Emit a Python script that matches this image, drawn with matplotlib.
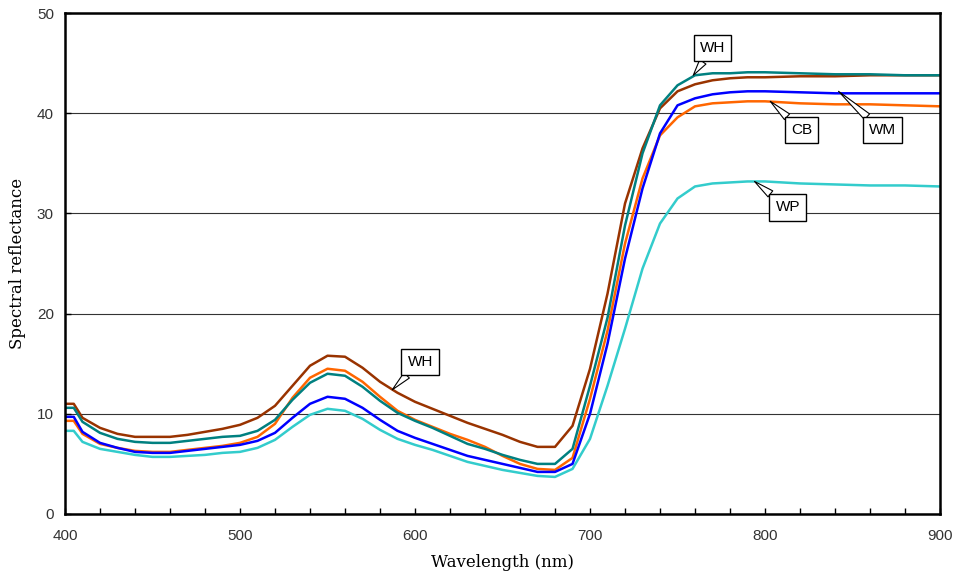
import matplotlib
matplotlib.use('Agg')
import matplotlib.pyplot as plt
from matplotlib.ticker import MultipleLocator

# wavelength (nm)
wl = [400, 405, 410, 420, 430, 440, 450, 460, 470, 480, 490, 500, 510, 520, 530,
      540, 550, 560, 570, 580, 590, 600, 610, 620, 630, 640, 650, 660, 670, 680,
      690, 700, 710, 720, 730, 740, 750, 760, 770, 780, 790, 800, 820, 840, 860,
      880, 900]

brown = [11.0, 11.0, 9.6, 8.6, 8.0, 7.7, 7.7, 7.7, 7.9, 8.2, 8.5, 8.9, 9.6, 10.8, 12.8,
         14.8, 15.8, 15.7, 14.6, 13.2, 12.1, 11.2, 10.5, 9.8, 9.1, 8.5, 7.9, 7.2, 6.7, 6.7,
         8.8, 14.5, 22.0, 31.0, 36.5, 40.5, 42.2, 42.9, 43.3, 43.5, 43.6, 43.6, 43.7, 43.7, 43.8,
         43.8, 43.8]
teal = [10.6, 10.6, 9.2, 8.1, 7.5, 7.2, 7.1, 7.1, 7.3, 7.5, 7.7, 7.8, 8.3, 9.4, 11.4,
        13.1, 14.0, 13.8, 12.7, 11.3, 10.1, 9.3, 8.6, 7.8, 7.0, 6.5, 5.9, 5.4, 5.0, 5.0,
        6.5, 12.8, 19.6, 28.8, 36.0, 40.8, 42.8, 43.8, 44.0, 44.0, 44.1, 44.1, 44.0, 43.9, 43.9,
        43.8, 43.8]
orange = [9.3, 9.3, 8.0, 7.0, 6.6, 6.3, 6.2, 6.2, 6.4, 6.6, 6.8, 7.1, 7.7, 9.0, 11.6,
          13.6, 14.5, 14.3, 13.2, 11.7, 10.3, 9.4, 8.7, 8.0, 7.4, 6.7, 5.8, 5.0, 4.5, 4.4,
          5.6, 11.5, 18.3, 27.0, 33.5, 37.8, 39.6, 40.7, 41.0, 41.1, 41.2, 41.2, 41.0, 40.9, 40.9,
          40.8, 40.7]
blue = [9.7, 9.7, 8.2, 7.1, 6.6, 6.2, 6.1, 6.1, 6.3, 6.5, 6.7, 6.9, 7.3, 8.1, 9.6,
        11.0, 11.7, 11.5, 10.6, 9.4, 8.3, 7.6, 7.0, 6.4, 5.8, 5.4, 5.0, 4.6, 4.2, 4.2,
        5.0, 10.0, 17.0, 25.5, 32.5, 38.0, 40.8, 41.5, 41.9, 42.1, 42.2, 42.2, 42.1, 42.0, 42.0,
        42.0, 42.0]
cyan = [8.3, 8.3, 7.2, 6.5, 6.2, 5.9, 5.7, 5.7, 5.8, 5.9, 6.1, 6.2, 6.6, 7.4, 8.7,
        9.9, 10.5, 10.3, 9.5, 8.4, 7.5, 6.9, 6.4, 5.8, 5.2, 4.8, 4.4, 4.1, 3.8, 3.7,
        4.5, 7.5, 12.8, 18.5, 24.5, 29.0, 31.5, 32.7, 33.0, 33.1, 33.2, 33.2, 33.0, 32.9, 32.8,
        32.8, 32.7]

# callout labels: text, box position, point
labels = [
    ('WH', (770, 46.5), (759, 43.8)),
    ('CB', (821, 38.3), (803, 41.2)),
    ('WM', (867, 38.3), (842, 42.2)),
    ('WP', (813, 30.6), (794, 33.2)),
    ('WH', (603, 15.2), (587, 12.4)),
]

fig = plt.figure(figsize=(9.6, 5.73), dpi=100)
ax = fig.add_axes([0.0677, 0.103, 0.9115, 0.874])

ax.plot(wl, cyan, color='#33cccc', lw=1.8)
ax.plot(wl, orange, color='#ff6600', lw=1.8)
ax.plot(wl, blue, color='#0000ff', lw=1.8)
ax.plot(wl, brown, color='#993300', lw=1.8)
ax.plot(wl, teal, color='#008080', lw=1.8)

for txt, box, pt in labels:
    ax.annotate(txt, xy=pt, xytext=box, ha='center', va='center',
                fontsize=11, family='Liberation Sans',
                bbox=dict(boxstyle='square,pad=0.4', fc='white', ec='black', lw=1),
                arrowprops=dict(arrowstyle='wedge,tail_width=0.5', fc='white',
                                ec='black', lw=0.8, shrinkA=0, shrinkB=0))

ax.set_xlim(400, 900)
ax.set_ylim(0, 50)
ax.xaxis.set_major_locator(MultipleLocator(100))
ax.xaxis.set_minor_locator(MultipleLocator(20))
ax.yaxis.set_major_locator(MultipleLocator(10))
ax.tick_params(axis='both', which='both', direction='in', labelsize=11,
               labelcolor='#333333')
ax.tick_params(axis='x', which='both', length=4, width=1, pad=11)
ax.tick_params(axis='y', which='major', length=4, width=1, pad=8)
for lab in ax.get_xticklabels() + ax.get_yticklabels():
    lab.set_family('Liberation Sans')

ax.grid(axis='y', color='#333333', lw=0.8)
ax.set_axisbelow(True)
for sp in ax.spines.values():
    sp.set_linewidth(1.8)

ax.set_xlabel('Wavelength (nm)', fontsize=12, family='DejaVu Serif', labelpad=8)
ax.set_ylabel('Spectral reflectance', fontsize=12, family='DejaVu Serif', labelpad=8)

fig.savefig('out.png', dpi=100)
